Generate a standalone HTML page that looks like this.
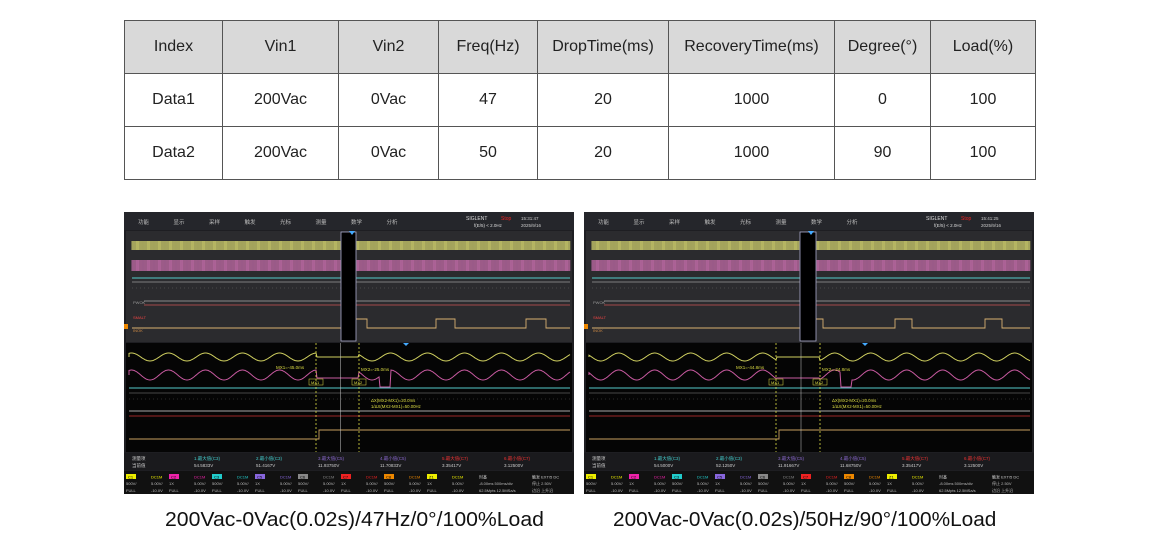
<!DOCTYPE html>
<html><head><meta charset="utf-8"><style>
body{margin:0;width:1161px;height:540px;background:#fff;overflow:hidden;position:relative;font-family:"Liberation Sans","Noto Sans CJK SC",sans-serif}
table{position:absolute;left:124px;top:20px;border-collapse:collapse;width:911px;table-layout:fixed}
td{border:1px solid #555;height:52px;text-align:center;font-size:16px;color:#222;padding:0}
tr.h td{background:#d9d9d9}
.scope{position:absolute;top:212px;width:450px;height:282px}
.cap{position:absolute;top:509px;font-size:20px;color:#111;white-space:nowrap;transform-origin:0 0}
</style></head><body>
<table>
<colgroup><col style="width:98px"><col style="width:116px"><col style="width:100px"><col style="width:99px"><col style="width:131px"><col style="width:166px"><col style="width:96px"><col style="width:105px"></colgroup>
<tr class="h"><td>Index</td><td>Vin1</td><td>Vin2</td><td>Freq(Hz)</td><td>DropTime(ms)</td><td>RecoveryTime(ms)</td><td>Degree(°)</td><td>Load(%)</td></tr>
<tr><td>Data1</td><td>200Vac</td><td>0Vac</td><td>47</td><td>20</td><td>1000</td><td>0</td><td>100</td></tr>
<tr><td>Data2</td><td>200Vac</td><td>0Vac</td><td>50</td><td>20</td><td>1000</td><td>90</td><td>100</td></tr>
</table>
<div id="s1" class="scope" style="left:124px"></div>
<div id="s2" class="scope" style="left:584px"></div>
<div class="cap" style="left:165px;transform:scaleX(1.06)">200Vac-0Vac(0.02s)/47Hz/0°/100%Load</div>
<div class="cap" style="left:613px;transform:scaleX(1.04)">200Vac-0Vac(0.02s)/50Hz/90°/100%Load</div>
<script>
function scope(id,o){
let s='<svg width="450" height="282" viewBox="0 0 450 282" xmlns="http://www.w3.org/2000/svg" font-family="Liberation Sans,Noto Sans CJK SC,sans-serif">';
s+='<rect width="450" height="282" fill="#1e1e22"/>';
s+='<rect width="450" height="18" fill="#25262b"/>';
['功能','显示','采样','触发','光标','测量','数学','分析'].forEach((t,i)=>{s+=`<text x="${14+i*35.5}" y="12" font-size="5.5" fill="#bbb">${t}</text>`});
s+=`<text x="342" y="8" font-size="5" fill="#ddd">SIGLENT</text><text x="377" y="8" font-size="5" fill="#e22">Stop</text><text x="350" y="15" font-size="4.5" fill="#ddd">f(E/5) &lt; 2.0Hz</text><text x="397" y="8" font-size="4.5" fill="#ccc">${o.time}</text><text x="397" y="15" font-size="4.5" fill="#ccc">2025/9/16</text>`;
s+='<rect x="2" y="19" width="446" height="111" fill="#2b2b2e"/>';
let ys='',ps='';
for(let x=8;x<446;x+=1.1){ys+=`M${x} 29V38`;ps+=`M${x} 48V59`;}
s+=`<path d="${ys}" stroke="#d8d870" stroke-width="0.8"/><path d="${ps}" stroke="#cc70b0" stroke-width="0.8"/>`;
s+='<line x1="8" y1="66" x2="446" y2="66" stroke="#5cc" stroke-width="1"/><line x1="8" y1="70" x2="446" y2="70" stroke="#999" stroke-width="0.8"/><line x1="8" y1="76" x2="446" y2="76" stroke="#666" stroke-width="0.6" stroke-dasharray="1 3"/>';
s+='<line x1="20" y1="89" x2="446" y2="89" stroke="#aaa" stroke-width="0.8"/><line x1="20" y1="93" x2="446" y2="93" stroke="#c55" stroke-width="0.8"/>';
s+='<text x="9" y="92" font-size="4" fill="#999">PWOK</text><text x="9" y="107" font-size="4" fill="#e44">SMALT</text><text x="9" y="120" font-size="4" fill="#c84">INOK</text><rect x="0" y="112" width="4" height="5" fill="#e80"/>';
let p=o.pulses.map(a=>`H${a[0]}V107H${a[1]}V116`).join('');
s+=`<path d="M8 116${p}H446" fill="none" stroke="#d8b070" stroke-width="0.9"/>`;
s+=`<rect x="${o.sel[0]}" y="20" width="${o.sel[1]-o.sel[0]}" height="109" fill="#000" stroke="#aac" stroke-width="0.8"/>`;
s+=`<path d="M${o.sel[0]+8} 19l3 4 3-4z" fill="#4af"/>`;
s+='<rect x="2" y="131" width="446" height="109" fill="#050505"/>';
let yl='M5 145',pl='M5 163',per=o.per;
for(let x=5;x<=446;x+=1){let y=145-4*Math.sin(2*Math.PI*x/per+o.ph);let q=163-5*Math.sin(2*Math.PI*x/per+o.ph);
 if(x>o.c1&&x<o.c2){y=145;q=166;} if(o.dip&&x>o.c2+20&&x<o.c2+32){q=175;}
 yl+=`L${x} ${y.toFixed(1)}`;pl+=`L${x} ${q.toFixed(1)}`;}
s+=`<path d="${yl}" fill="none" stroke="#d0d060" stroke-width="1"/><path d="${pl}" fill="none" stroke="#c85aa0" stroke-width="1"/>`;
s+='<line x1="5" y1="176" x2="446" y2="176" stroke="#5cc"/><line x1="5" y1="181" x2="446" y2="181" stroke="#888" stroke-width="0.6"/><line x1="5" y1="187" x2="446" y2="187" stroke="#555" stroke-dasharray="1 3" stroke-width="0.6"/>';
s+='<line x1="5" y1="199" x2="446" y2="199" stroke="#ddd" stroke-width="0.8"/><line x1="5" y1="204" x2="446" y2="204" stroke="#c33" stroke-width="0.8"/>';
s+=`<path d="M5 227H${o.c1+3}V218H446" fill="none" stroke="#c8a060" stroke-width="0.9"/>`;
s+=`<line x1="${o.c1}" y1="131" x2="${o.c1}" y2="240" stroke="#dd4" stroke-dasharray="2 2" stroke-width="0.8"/><line x1="${o.c2}" y1="131" x2="${o.c2}" y2="240" stroke="#dd4" stroke-dasharray="2 2" stroke-width="0.8"/><line x1="${(o.c1+o.c2)/2+3}" y1="131" x2="${(o.c1+o.c2)/2+3}" y2="240" stroke="#ccc" stroke-width="0.5"/>`;
s+=`<text x="${o.c1-40}" y="157" font-size="4.5" fill="#dd4">${o.mx1}</text><text x="${o.c2+2}" y="159" font-size="4.5" fill="#dd4">${o.mx2}</text>`;
s+=`<rect x="${o.c1-7}" y="167" width="14" height="6" fill="none" stroke="#dd4" stroke-width="0.5"/><text x="${o.c1-5}" y="172" font-size="4" fill="#dd4">MX1</text><rect x="${o.c2-7}" y="167" width="14" height="6" fill="none" stroke="#dd4" stroke-width="0.5"/><text x="${o.c2-5}" y="172" font-size="4" fill="#dd4">MX2</text>`;
s+=`<text x="${o.c2+12}" y="190" font-size="4.3" fill="#dd4">ΔX(MX2-MX1)=20.0ms</text><text x="${o.c2+12}" y="196" font-size="4.3" fill="#dd4">1/ΔX(MX2-MX1)=50.00Hz</text>`;
s+=`<path d="M${o.sel[0]+62} 131l3 3 3-3z" fill="#4af"/>`;
s+='<rect x="0" y="241" width="450" height="17" fill="#1a1a1d"/>';
s+='<text x="8" y="248" font-size="4.5" fill="#ccc">测量项</text><text x="8" y="255" font-size="4.5" fill="#ccc">当前值</text>';
const mc=['#4cc','#4cc','#86c','#86c','#e33','#e33'],mn=['1.最大值(C3)','2.最小值(C3)','3.最大值(C5)','4.最小值(C5)','5.最大值(C7)','6.最小值(C7)'];
mn.forEach((t,i)=>{s+=`<text x="${70+i*62}" y="248" font-size="4.5" fill="${mc[i]}">${t}</text><text x="${70+i*62}" y="255" font-size="4.5" fill="#ccc">${o.meas[i]}</text>`});
s+='<rect x="0" y="259" width="450" height="23" fill="#111"/>';
const cc=[['C1','#ee0'],['C2','#e2a'],['C3','#2cc'],['C5','#86d'],['C6','#888'],['C7','#e22'],['C8','#e80'],['Z1','#ee0']];
cc.forEach((c,i)=>{let x=2+i*43;s+=`<rect x="${x}" y="262" width="10" height="5" fill="${c[1]}"/><text x="${x+2}" y="266.5" font-size="4" fill="#000">${c[0]}</text><text x="${x+25}" y="266.5" font-size="4" fill="${c[1]}">DC1M</text><text x="${x}" y="273" font-size="4" fill="#bbb">${i%2?'1X':'500V/'}</text><text x="${x+25}" y="273" font-size="4" fill="#bbb">5.00V/</text><text x="${x}" y="280" font-size="4" fill="#bbb">FULL</text><text x="${x+25}" y="280" font-size="4" fill="#bbb">-10.0V</text>`});
s+='<text x="355" y="266.5" font-size="4" fill="#ccc">时基</text><text x="355" y="273" font-size="4" fill="#bbb">-8.00ms 500ms/div</text><text x="355" y="280" font-size="4" fill="#bbb">62.5Mpts 12.5MSa/s</text><text x="408" y="266.5" font-size="4" fill="#ccc">触发  EXT/5 DC</text><text x="408" y="273" font-size="4" fill="#bbb">停止    2.50V</text><text x="408" y="280" font-size="4" fill="#bbb">边沿   上升沿</text>';
s+='</svg>';document.getElementById(id).innerHTML=s;}
scope('s1',{time:'15:31:47',pulses:[[223,243],[312,331],[402,422]],sel:[217,232],c1:192,c2:235,per:37,ph:0.3,dip:true,mx1:'MX1=-45.0ms',mx2:'MX2=-25.0ms',meas:['54.5833V','51.4167V','11.93750V','11.70833V','3.35417V','3.12500V']});
scope('s2',{time:'15:41:25',pulses:[[222,239],[311,328],[401,418]],sel:[216,232],c1:192,c2:236,per:36,ph:1.8,dip:true,mx1:'MX1=-44.8ms',mx2:'MX2=-24.8ms',meas:['54.5000V','52.1250V','11.91667V','11.68750V','3.35417V','3.12500V']});
</script>
</body></html>
